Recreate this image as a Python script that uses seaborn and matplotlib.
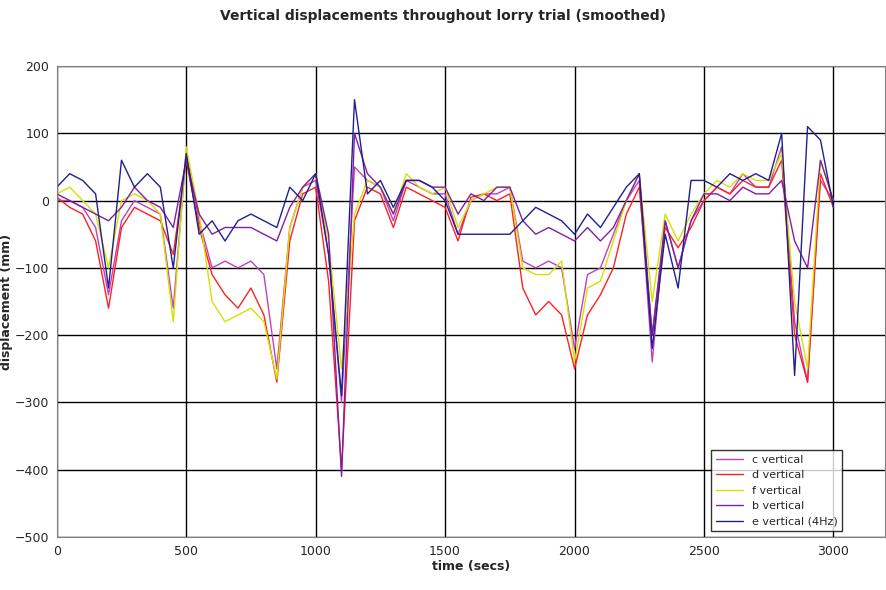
import matplotlib
matplotlib.use("Agg")
import matplotlib.pyplot as plt
import seaborn as sns
import pandas as pd

# time axis (secs), 50 s steps
time_s = list(range(0, 3001, 50))

d_vert = [5, -10, -20, -60, -160, -40, -10, -20, -30, -80,
          60, -40, -110, -140, -160, -130, -170, -270, -60, 10,
          20, -120, -400, -30, 20, 10, -40, 20, 10, 0,
          -10, -60, 5, 10, 0, 10, -130, -170, -150, -170,
          -250, -170, -140, -100, -20, 20, -200, -40, -70, -40,
          0, 20, 10, 30, 20, 20, 60, -200, -270, 40,
          -10]
f_vert = [10, 20, 0, -20, -100, 0, 10, 0, -20, -180,
          80, -20, -150, -180, -170, -160, -180, -265, -40, 20,
          40, -60, -250, -20, 30, 20, -20, 40, 20, 10,
          20, -40, 0, 10, 20, 20, -100, -110, -110, -90,
          -240, -130, -120, -60, 0, 40, -150, -20, -60, -20,
          10, 30, 20, 40, 30, 30, 70, -150, -250, 60,
          0]
c_vert = [0, 0, -10, -40, -140, -30, 0, -10, -20, -160,
          70, -30, -100, -90, -100, -90, -110, -250, -40, 20,
          30, -80, -300, 50, 30, 20, -30, 30, 20, 10,
          10, -50, 0, 10, 10, 20, -90, -100, -90, -100,
          -220, -110, -100, -50, 0, 30, -240, -30, -100, -30,
          0, 20, 10, 40, 20, 20, 80, -180, -270, 30,
          0]
b_vert = [10, 0, -10, -20, -30, -10, 20, 0, -10, -40,
          60, -20, -50, -40, -40, -40, -50, -60, -10, 20,
          40, -50, -410, 100, 40, 20, -20, 30, 30, 20,
          20, -20, 10, 0, 20, 20, -30, -50, -40, -50,
          -60, -40, -60, -40, 0, 40, -200, -30, -100, -30,
          10, 10, 0, 20, 10, 10, 30, -60, -100, 60,
          0]
e_vert = [20, 40, 30, 10, -130, 60, 20, 40, 20, -100,
          70, -50, -30, -60, -30, -20, -30, -40, 20, 0,
          40, -80, -290, 150, 10, 30, -10, 30, 30, 20,
          0, -50, -50, -50, -50, -50, -30, -10, -20, -30,
          -50, -20, -40, -10, 20, 40, -220, -50, -130, 30,
          30, 20, 40, 30, 40, 30, 100, -260, 110, 90,
          -10]

series = {
    "c vertical": (c_vert, "#c040c0"),
    "d vertical": (d_vert, "#ff2020"),
    "f vertical": (f_vert, "#d8e000"),
    "b vertical": (b_vert, "#8020a0"),
    "e vertical (4Hz)": (e_vert, "#202090"),
}

sns.set_style("white")
fig = plt.figure(figsize=(8.87, 5.9), dpi=100)
ax = fig.add_axes([0.064, 0.09, 0.934, 0.798])

for name, (vals, col) in series.items():
    df = pd.DataFrame({"t": time_s, "v": vals})
    sns.lineplot(data=df, x="t", y="v", color=col, lw=1, label=name, ax=ax)

ax.set_xlim(0, 3200)
ax.set_ylim(-500, 200)
ax.set_xticks(range(0, 3001, 500))
ax.set_yticks(range(-500, 201, 100))
ax.grid(True, color="black", lw=1)
for s in ax.spines.values():
    s.set_color("#808080")
ax.tick_params(labelsize=9, pad=2)
ax.set_xlabel("time (secs)", fontsize=9, fontweight="bold", labelpad=2)
ax.set_ylabel("displacement (mm)", fontsize=9, fontweight="bold", labelpad=1)
fig.suptitle("Vertical displacements throughout lorry trial (smoothed)",
             fontsize=10, fontweight="bold", y=0.985)
leg = ax.legend(loc="lower right", bbox_to_anchor=(0.955, 0.0), fontsize=8,
                frameon=True, fancybox=False, edgecolor="black", handlelength=2.5)
leg.get_frame().set_linewidth(1)

fig.savefig("out.png", dpi=100)
